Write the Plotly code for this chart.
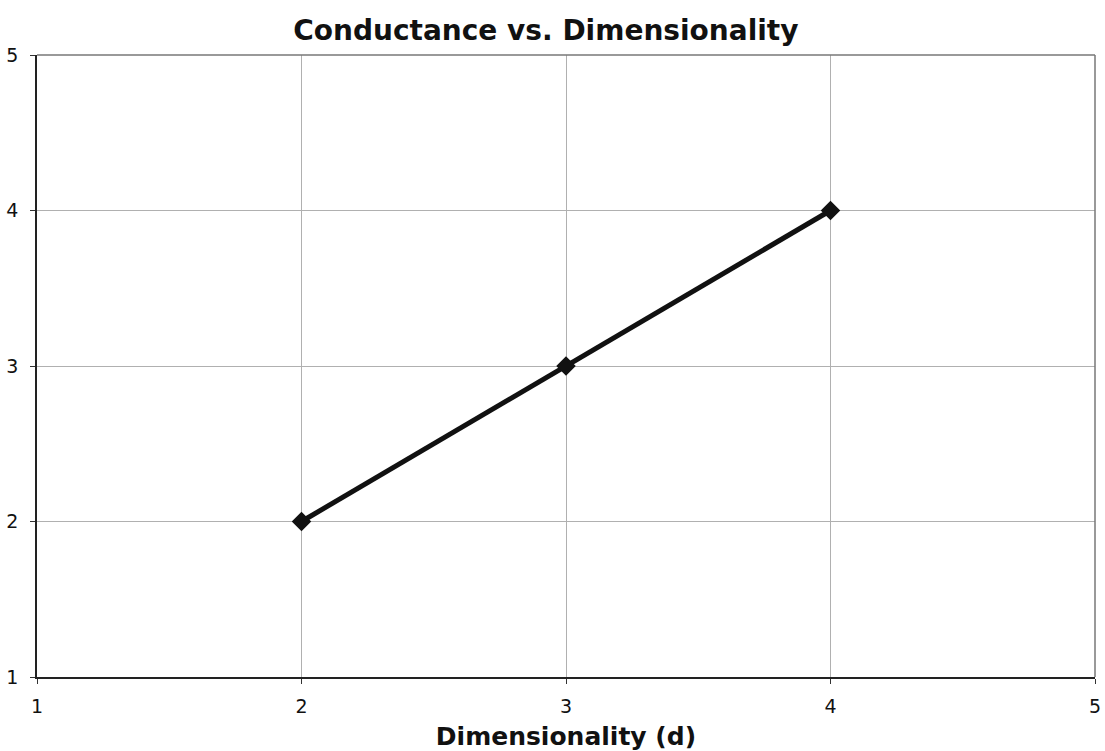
import plotly.graph_objects as go

dimension = [2, 3, 4]
conductance = [2, 3, 4]
tick_vals = [1, 2, 3, 4, 5]

fig = go.Figure()
fig.add_trace(go.Scatter(
    x=dimension, y=conductance, mode="lines+markers",
    line=dict(color="#111111", width=5),
    marker=dict(symbol="diamond", size=15, color="#111111"),
    showlegend=False,
))

axis_common = dict(
    range=[1, 5], tickvals=tick_vals, showgrid=True, gridcolor="#b0b0b0", gridwidth=1,
    zeroline=False, ticks="outside", ticklen=5, tickcolor="#333333",
    tickfont=dict(family="DejaVu Sans", size=19, color="#111111"),
    showline=True, linecolor="#222222", linewidth=1.5, mirror=False,
    automargin=False,
)

fig.update_layout(
    width=1105, height=751,
    margin=dict(l=37, r=10, t=55, b=74),
    paper_bgcolor="white", plot_bgcolor="white",
    title=dict(text="<b>Conductance vs. Dimensionality</b>", x=0.494, xref="container",
               y=0.96, yref="container", xanchor="center", yanchor="middle",
               font=dict(family="DejaVu Sans", size=28, color="#111111"), automargin=False),
    xaxis=dict(**axis_common, ticklabelstandoff=6,
               title=dict(text="<b>Dimensionality (d)</b>", standoff=20,
               font=dict(family="DejaVu Sans", size=25, color="#111111"))),
    yaxis=dict(**axis_common, ticklabelstandoff=8),
)
# top and right borders (gray)
fig.add_shape(type="line", xref="paper", yref="paper", x0=0, x1=1, y0=1, y1=1,
              line=dict(color="#777777", width=1.5))
fig.add_shape(type="line", xref="paper", yref="paper", x0=1, x1=1, y0=0, y1=1,
              line=dict(color="#777777", width=1.5))

fig.write_html("out.html")
